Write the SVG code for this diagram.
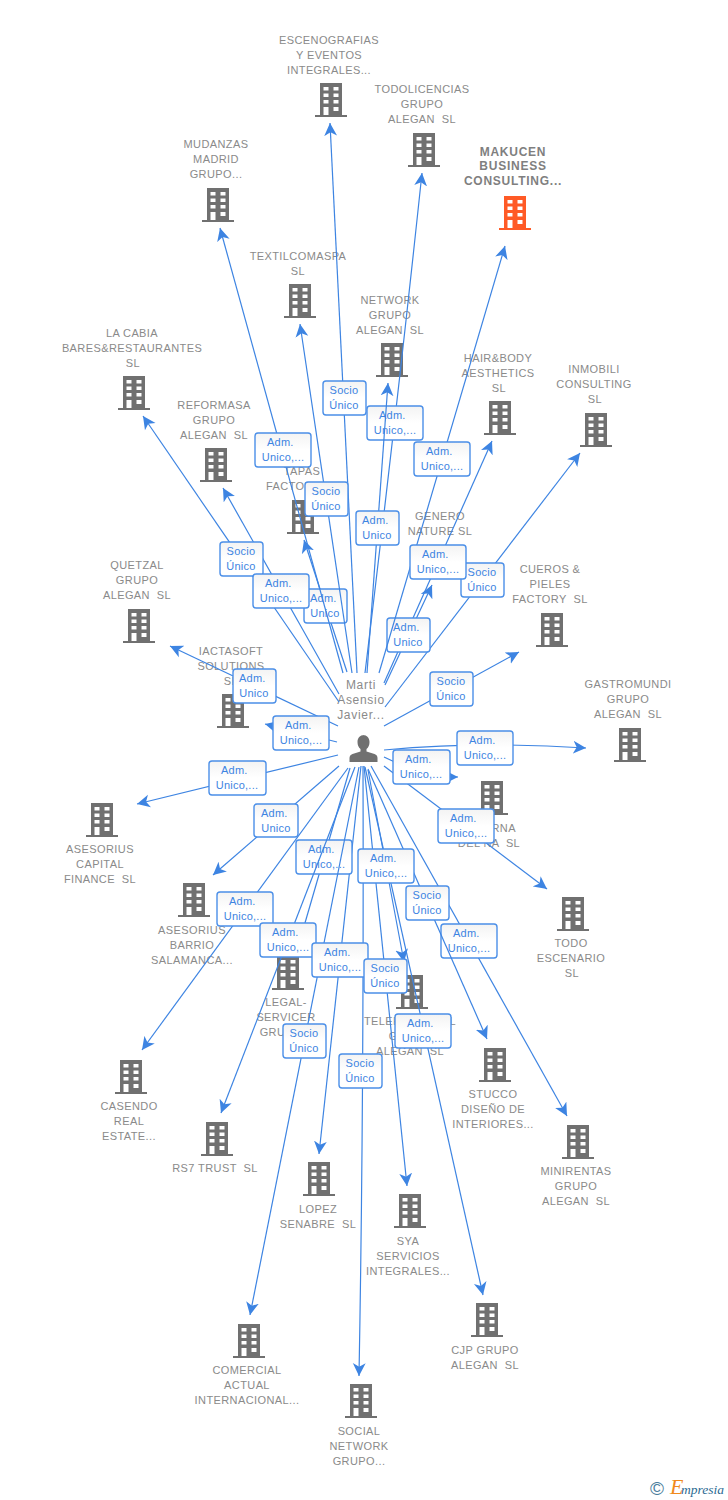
<svg xmlns="http://www.w3.org/2000/svg" width="728" height="1500" viewBox="0 0 728 1500">
<style>
text{font-family:"Liberation Sans",Arial,sans-serif;white-space:pre}
.n text{font-size:11px;letter-spacing:.4px;fill:#8a8a8a;text-anchor:middle}
#n-makucen text{font-weight:bold;font-size:12px;letter-spacing:.75px;fill:#7f7f7f}
#person text{font-size:12px;letter-spacing:.7px}
.b{fill:#707070}.o{fill:#ff5a26}
.c path{fill:none;stroke:#3d84e2;stroke-width:1.2;marker-end:url(#a)}
.l rect{fill:url(#g);stroke:#4b8fe8;stroke-width:1.4}
.l text{font-size:11px;letter-spacing:.25px;fill:#3d84e2;text-anchor:middle}
</style>
<defs>
<linearGradient id="g" x1="0" y1="0" x2="0" y2="1"><stop offset="0" stop-color="#f3f3f3"/><stop offset=".5" stop-color="#fff"/></linearGradient>
<marker id="a" markerUnits="userSpaceOnUse" markerWidth="14" markerHeight="14" refX="11" refY="6" orient="auto" viewBox="0 0 12 12"><path d="M0,0.500 L11,6 L0,11.500 L3,6z" fill="#3d84e2"/></marker>
<path id="bd" fill-rule="evenodd" d="M-11-17H11V15H16V17H-16V15H-11ZM-7.500-13V-9.500H-2.500V-13ZM2.500-13V-9.500H7.500V-13ZM-7.500-6.500V-3H-2.500V-6.500ZM2.500-6.500V-3H7.500V-6.500ZM-7.500 0V3.500H-2.500V0ZM2.500 0V3.500H7.500V0ZM-7.500 7V15H-2.500V7ZM2.500 7V11H7.500V7Z"/>
</defs>
<g id="nodes">
<g class="n" id="n-escenografias"><use href="#bd" class="b" x="331" y="100"/><text x="329" y="44">ESCENOGRAFIAS</text><text x="329" y="59">Y EVENTOS</text><text x="329" y="74">INTEGRALES...</text></g>
<g class="n" id="n-todolicencias"><use href="#bd" class="b" x="424" y="150"/><text x="422" y="93">TODOLICENCIAS</text><text x="422" y="108">GRUPO</text><text x="422" y="123">ALEGAN  SL</text></g>
<g class="n" id="n-makucen"><use href="#bd" class="o" x="515" y="213"/><text x="513" y="156">MAKUCEN</text><text x="513" y="170">BUSINESS</text><text x="513" y="185">CONSULTING...</text></g>
<g class="n" id="n-mudanzas"><use href="#bd" class="b" x="218" y="205"/><text x="216" y="148">MUDANZAS</text><text x="216" y="163">MADRID</text><text x="216" y="178">GRUPO...</text></g>
<g class="n" id="n-textil"><use href="#bd" class="b" x="300" y="301"/><text x="298" y="260">TEXTILCOMASPA</text><text x="298" y="275">SL</text></g>
<g class="n" id="n-network"><use href="#bd" class="b" x="392" y="360"/><text x="390" y="304">NETWORK</text><text x="390" y="319">GRUPO</text><text x="390" y="334">ALEGAN  SL</text></g>
<g class="n" id="n-cabia"><use href="#bd" class="b" x="134" y="393"/><text x="132" y="337">LA CABIA</text><text x="132" y="352">BARES&amp;RESTAURANTES</text><text x="133" y="367">SL</text></g>
<g class="n" id="n-hair"><use href="#bd" class="b" x="500" y="418"/><text x="498" y="362">HAIR&amp;BODY</text><text x="498" y="377">AESTHETICS</text><text x="499" y="392">SL</text></g>
<g class="n" id="n-inmobili"><use href="#bd" class="b" x="596" y="430"/><text x="594" y="373">INMOBILI</text><text x="594" y="388">CONSULTING</text><text x="595" y="403">SL</text></g>
<g class="n" id="n-reformasa"><use href="#bd" class="b" x="216" y="465"/><text x="214" y="409">REFORMASA</text><text x="214" y="424">GRUPO</text><text x="214" y="439">ALEGAN  SL</text></g>
<g class="n" id="n-tapas"><use href="#bd" class="b" x="303" y="517"/><text x="302" y="475">TAPAS</text><text x="302" y="490">FACTORY SL</text></g>
<g class="n" id="n-genero"><use href="#bd" class="b" x="440" y="562"/><text x="440" y="520">GENERO</text><text x="440" y="535">NATURE SL</text></g>
<g class="n" id="n-quetzal"><use href="#bd" class="b" x="139" y="626"/><text x="137" y="569">QUETZAL</text><text x="137" y="584">GRUPO</text><text x="137" y="599">ALEGAN  SL</text></g>
<g class="n" id="n-cueros"><use href="#bd" class="b" x="552" y="630"/><text x="550" y="573">CUEROS &amp;</text><text x="550" y="588">PIELES</text><text x="550" y="603">FACTORY  SL</text></g>
<g class="n" id="n-iactasoft"><use href="#bd" class="b" x="233" y="711"/><text x="231" y="655">IACTASOFT</text><text x="231" y="670">SOLUTIONS</text><text x="231" y="685">SL</text></g>
<g class="n" id="n-gastromundi"><use href="#bd" class="b" x="630" y="745"/><text x="628" y="688">GASTROMUNDI</text><text x="628" y="703">GRUPO</text><text x="628" y="718">ALEGAN  SL</text></g>
<g class="n" id="n-taberna"><use href="#bd" class="b" x="492" y="798"/><text x="489" y="832">TABERNA</text><text x="489" y="847">DEL NA  SL</text></g>
<g class="n" id="n-capital"><use href="#bd" class="b" x="102" y="820"/><text x="100" y="853">ASESORIUS</text><text x="100" y="868">CAPITAL</text><text x="100" y="883">FINANCE  SL</text></g>
<g class="n" id="n-todoesc"><use href="#bd" class="b" x="573" y="914"/><text x="571" y="947">TODO</text><text x="571" y="962">ESCENARIO</text><text x="572" y="977">SL</text></g>
<g class="n" id="n-barrio"><use href="#bd" class="b" x="194" y="900"/><text x="192" y="934">ASESORIUS</text><text x="192" y="949">BARRIO</text><text x="192" y="964">SALAMANCA...</text></g>
<g class="n" id="n-legal"><use href="#bd" class="b" x="288" y="973"/><text x="286" y="1006">LEGAL-</text><text x="286" y="1021">SERVICER</text><text x="286" y="1036">GRUPO...</text></g>
<g class="n" id="n-tele"><use href="#bd" class="b" x="412" y="992"/><text x="410" y="1025">TELEPERSONAL</text><text x="410" y="1040">GRUPO</text><text x="410" y="1055">ALEGAN  SL</text></g>
<g class="n" id="n-casendo"><use href="#bd" class="b" x="131" y="1077"/><text x="129" y="1110">CASENDO</text><text x="129" y="1125">REAL</text><text x="129" y="1140">ESTATE...</text></g>
<g class="n" id="n-stucco"><use href="#bd" class="b" x="495" y="1065"/><text x="493" y="1098">STUCCO</text><text x="493" y="1113">DISEÑO DE</text><text x="493" y="1128">INTERIORES...</text></g>
<g class="n" id="n-minirentas"><use href="#bd" class="b" x="578" y="1142"/><text x="576" y="1175">MINIRENTAS</text><text x="576" y="1190">GRUPO</text><text x="576" y="1205">ALEGAN  SL</text></g>
<g class="n" id="n-rs7"><use href="#bd" class="b" x="217" y="1139"/><text x="215" y="1172">RS7 TRUST  SL</text></g>
<g class="n" id="n-lopez"><use href="#bd" class="b" x="319" y="1179"/><text x="318" y="1213">LOPEZ</text><text x="318" y="1228">SENABRE  SL</text></g>
<g class="n" id="n-sya"><use href="#bd" class="b" x="410" y="1211"/><text x="408" y="1245">SYA</text><text x="408" y="1260">SERVICIOS</text><text x="408" y="1275">INTEGRALES...</text></g>
<g class="n" id="n-cjp"><use href="#bd" class="b" x="487" y="1320"/><text x="485" y="1354">CJP GRUPO</text><text x="485" y="1369">ALEGAN  SL</text></g>
<g class="n" id="n-comercial"><use href="#bd" class="b" x="249" y="1341"/><text x="247" y="1374">COMERCIAL</text><text x="247" y="1389">ACTUAL</text><text x="247" y="1404">INTERNACIONAL...</text></g>
<g class="n" id="n-social"><use href="#bd" class="b" x="361" y="1401"/><text x="359" y="1435">SOCIAL</text><text x="359" y="1450">NETWORK</text><text x="359" y="1465">GRUPO...</text></g>
<g class="n" id="person"><text x="361" y="689">Marti</text><text x="361" y="704">Asensio</text><text x="361" y="719">Javier...</text><path class="b" d="M363 735c4 0 6.500 3 6.500 7 0 3-1 5.500-3 7v2.500l8 2.500c2 .8 3 2 3 4v4h-28v-4c0-2 1-3.200 3-4l8-2.500v-2.500c-2-1.500-3-4-3-7 0-4 2.500-7 6.500-7z"/></g>
</g>
<g id="connectors-lower" class="c">
<path d="M357,673 L330,123"/>
<path d="M365,673 Q398,400 422,173"/>
<path d="M339,702 L143,416"/>
<path d="M339,694 L223,488"/>
<path d="M385,685 L432,585"/>
<path d="M384,683 L492,441"/>
<path d="M385,707 L580,453"/>
<path d="M347,672 L304,540"/>
<path d="M338,726 L170,646"/>
<path d="M384,726 L519,652"/>
<path d="M337,742 L265,724"/>
<path d="M384,750 Q485,741 586,748"/>
<path d="M384,757 Q425,777 458,777"/>
<path d="M338,755 L137,804"/>
<path d="M384,766 L547,889"/>
<path d="M339,766 L213,875"/>
<path d="M350,768 L298,947"/>
<path d="M348,768 L142,1050"/>
<path d="M368,770 L404,962"/>
<path d="M371,766 L567,1116"/>
<path d="M361,766 L319,1154"/>
<path d="M364,766 L407,1186"/>
<path d="M365,767 L483,1295"/>
<path d="M363,766 Q364,1100 359,1376"/>
</g>
<g id="labels-lower" class="l">
<g><rect x="367" y="406" width="56" height="34" rx="3"/><text x="394" y="419">Adm. </text><text x="395" y="434">Unico,...</text></g>
<g><rect x="304" y="589" width="43" height="34" rx="3"/><text x="325" y="602">Adm. </text><text x="325" y="617">Unico</text></g>
<g><rect x="387" y="618" width="43" height="34" rx="3"/><text x="408" y="631">Adm. </text><text x="408" y="646">Unico</text></g>
<g><rect x="296" y="840" width="56" height="34" rx="3"/><text x="323" y="853">Adm. </text><text x="324" y="868">Unico,...</text></g>
<g><rect x="441" y="924" width="56" height="34" rx="3"/><text x="468" y="937">Adm. </text><text x="469" y="952">Unico,...</text></g>
</g>
<g id="connectors-upper" class="c">
<path d="M379,673 L505,246"/>
<path d="M343,673 L220,228"/>
<path d="M352,673 L300,324"/>
<path d="M367,673 L388,383"/>
<path d="M355,767 L221,1113"/>
<path d="M359,767 L250,1315"/>
<path d="M368,769 L487,1039"/>
</g>
<g id="labels-upper" class="l">
<g><rect x="323" y="381" width="43" height="34" rx="3"/><text x="344" y="394">Socio</text><text x="344" y="409">Único</text></g>
<g><rect x="255" y="433" width="56" height="34" rx="3"/><text x="282" y="446">Adm. </text><text x="283" y="461">Unico,...</text></g>
<g><rect x="414" y="442" width="56" height="34" rx="3"/><text x="441" y="455">Adm. </text><text x="442" y="470">Unico,...</text></g>
<g><rect x="305" y="482" width="43" height="34" rx="3"/><text x="326" y="495">Socio</text><text x="326" y="510">Único</text></g>
<g><rect x="356" y="511" width="43" height="34" rx="3"/><text x="377" y="524">Adm. </text><text x="377" y="539">Unico</text></g>
<g><rect x="220" y="542" width="43" height="34" rx="3"/><text x="241" y="555">Socio</text><text x="241" y="570">Único</text></g>
<g><rect x="253" y="574" width="56" height="34" rx="3"/><text x="280" y="587">Adm. </text><text x="281" y="602">Unico,...</text></g>
<g><rect x="461" y="563" width="43" height="34" rx="3"/><text x="482" y="576">Socio</text><text x="482" y="591">Único</text></g>
<g><rect x="410" y="545" width="56" height="34" rx="3"/><text x="437" y="558">Adm. </text><text x="438" y="573">Unico,...</text></g>
<g><rect x="430" y="672" width="43" height="34" rx="3"/><text x="451" y="685">Socio</text><text x="451" y="700">Único</text></g>
<g><rect x="233" y="669" width="43" height="34" rx="3"/><text x="254" y="682">Adm. </text><text x="254" y="697">Unico</text></g>
<g><rect x="273" y="716" width="56" height="34" rx="3"/><text x="300" y="729">Adm. </text><text x="301" y="744">Unico,...</text></g>
<g><rect x="457" y="731" width="56" height="34" rx="3"/><text x="484" y="744">Adm. </text><text x="485" y="759">Unico,...</text></g>
<g><rect x="393" y="750" width="57" height="34" rx="3"/><text x="420" y="763">Adm. </text><text x="421" y="778">Unico,...</text></g>
<g><rect x="209" y="761" width="57" height="34" rx="3"/><text x="236" y="774">Adm. </text><text x="237" y="789">Unico,...</text></g>
<g><rect x="254" y="804" width="44" height="33" rx="3"/><text x="276" y="817">Adm. </text><text x="276" y="832">Unico</text></g>
<g><rect x="438" y="809" width="56" height="34" rx="3"/><text x="465" y="822">Adm. </text><text x="466" y="837">Unico,...</text></g>
<g><rect x="358" y="849" width="56" height="34" rx="3"/><text x="385" y="862">Adm. </text><text x="386" y="877">Unico,...</text></g>
<g><rect x="406" y="886" width="43" height="34" rx="3"/><text x="427" y="899">Socio</text><text x="427" y="914">Único</text></g>
<g><rect x="217" y="892" width="56" height="34" rx="3"/><text x="244" y="905">Adm. </text><text x="245" y="920">Unico,...</text></g>
<g><rect x="260" y="923" width="56" height="34" rx="3"/><text x="287" y="936">Adm. </text><text x="288" y="951">Unico,...</text></g>
<g><rect x="312" y="943" width="56" height="34" rx="3"/><text x="339" y="956">Adm. </text><text x="340" y="971">Unico,...</text></g>
<g><rect x="364" y="959" width="43" height="34" rx="3"/><text x="385" y="972">Socio</text><text x="385" y="987">Único</text></g>
<g><rect x="395" y="1014" width="56" height="34" rx="3"/><text x="422" y="1027">Adm. </text><text x="423" y="1042">Unico,...</text></g>
<g><rect x="283" y="1024" width="43" height="34" rx="3"/><text x="304" y="1037">Socio</text><text x="304" y="1052">Único</text></g>
<g><rect x="339" y="1054" width="43" height="34" rx="3"/><text x="360" y="1067">Socio</text><text x="360" y="1082">Único</text></g>
</g>
<g id="footer">
<text x="650" y="1495" style="font-size:19px;fill:#4a7d9c">©</text>
<text x="670" y="1494" style="font-family:'Liberation Serif',serif;font-style:italic;font-size:22px;fill:#f08a1d">E</text>
<text x="681" y="1494" style="font-family:'Liberation Serif',serif;font-style:italic;font-size:13.500px;fill:#2c6a92">mpresia</text>
</g>
</svg>
